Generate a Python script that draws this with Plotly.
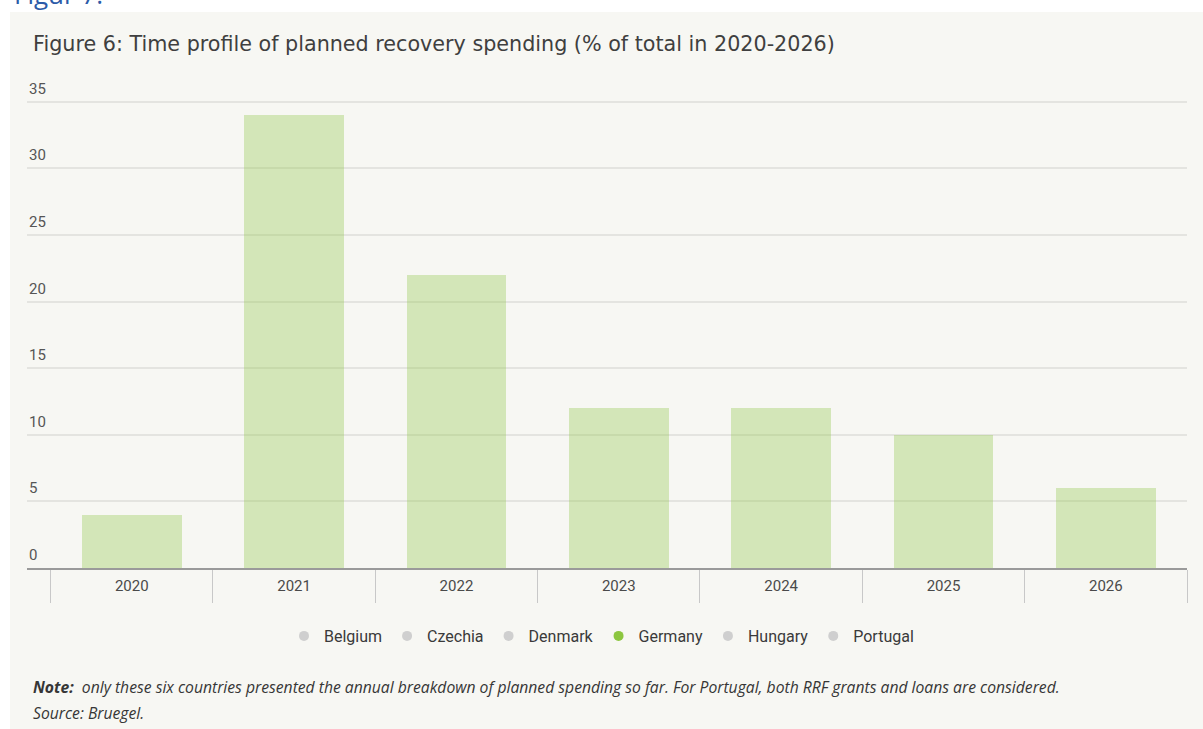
import plotly.graph_objects as go

# Chart data
years = ["2020", "2021", "2022", "2023", "2024", "2025", "2026"]
spending_share = [4, 34, 22, 12, 12, 10, 6]
countries = ["Belgium", "Czechia", "Denmark", "Germany", "Hungary", "Portugal"]
shown_country = "Germany"
y_ticks = [0, 5, 10, 15, 20, 25, 30, 35]

W, H = 1203, 729
PANEL_BG = "#f7f7f3"
TEXT = "#4a4a4a"
GREEN = "#8cc63f"
GREY_DOT = "#cfcfcf"


def px_x(x):
    return x / W


def px_y(y):
    return 1 - y / H


# plot area in pixels (y=0 at the axis line, y=35 at the top gridline)
left, right, y0_px, y35_px = 27, 1187, 568, 101.7
unit_px = (y0_px - y35_px) / 35
y_top = 37
top = y0_px - y_top * unit_px
cat_w = (right - left) / (len(years) + 0.1455)
x_lo = -0.5 - (50.6 - left) / cat_w
x_hi = len(years) - 0.5

fig = go.Figure()

fig.add_trace(go.Bar(
    x=list(range(len(years))),
    y=spending_share,
    width=0.615,
    marker=dict(color="rgba(140,198,63,0.33)", line=dict(width=0)),
    showlegend=False,
    hoverinfo="skip",
))

for c in countries:
    fig.add_trace(go.Scatter(
        x=[None], y=[None], mode="markers", name=c,
        marker=dict(symbol="circle", size=10,
                    color=GREEN if c == shown_country else GREY_DOT),
    ))

# y tick labels sit just above their gridlines, flush left
annotations = [
    dict(text=str(v), xref="paper", yref="y", x=px_x(left), y=v,
         xanchor="left", yanchor="bottom", yshift=2, showarrow=False,
         font=dict(size=15, color="#555555"))
    for v in y_ticks
]

annotations += [
    dict(text="Figur 7:", xref="paper", yref="paper",
         x=px_x(12), y=px_y(-6), xanchor="left", yanchor="middle",
         showarrow=False,
         font=dict(family="'Open Sans', sans-serif", size=26, color="#2c5ba8")),
    dict(text="Figure 6: Time profile of planned recovery spending (% of total in 2020-2026)",
         xref="paper", yref="paper", x=px_x(31), y=px_y(44),
         xanchor="left", yanchor="middle", showarrow=False,
         font=dict(family="'DejaVu Sans', sans-serif", size=20.7, color="#3f3f3f")),
    dict(text="<b><i>Note:</i></b><i>  only these six countries presented the annual breakdown of planned spending so far. "
              "For Portugal, both RRF grants and loans are considered.</i>",
         xref="paper", yref="paper", x=px_x(31), y=px_y(687),
         xanchor="left", yanchor="middle", showarrow=False,
         font=dict(family="'Open Sans', sans-serif", size=15.7, color="#363636")),
    dict(text="<i>Source: Bruegel.</i>",
         xref="paper", yref="paper", x=px_x(31), y=px_y(713),
         xanchor="left", yanchor="middle", showarrow=False,
         font=dict(family="'Open Sans', sans-serif", size=15.7, color="#363636")),
]

fig.update_layout(
    width=W, height=H,
    margin=dict(l=0, r=0, t=0, b=0),
    paper_bgcolor="white",
    plot_bgcolor="rgba(0,0,0,0)",
    font=dict(family="Roboto, 'Open Sans', sans-serif", color=TEXT),
    bargap=0,
    xaxis=dict(
        domain=[px_x(left), px_x(right)],
        range=[x_lo, x_hi],
        tickmode="array",
        tickvals=list(range(len(years))),
        ticktext=years,
        ticks="",
        ticklabelstandoff=3,
        showgrid=False,
        zeroline=False,
        showline=True, linecolor="#9a9a9a", linewidth=2,
        tickfont=dict(size=15, color=TEXT),
        minor=dict(tickmode="array",
                   tickvals=[i - 0.5 for i in range(len(years) + 1)],
                   ticks="outside", ticklen=33, tickcolor="#c8c8c8",
                   tickwidth=1, showgrid=False),
        fixedrange=True,
    ),
    yaxis=dict(
        domain=[px_y(y0_px), px_y(top)],
        range=[0, y_top],
        tickmode="array",
        tickvals=y_ticks,
        showticklabels=False,
        showgrid=True, gridcolor="#e4e4e0", gridwidth=1.5,
        zeroline=False,
        showline=False,
        fixedrange=True,
    ),
    legend=dict(
        orientation="h",
        x=0.5, xanchor="center",
        y=px_y(636), yanchor="middle",
        font=dict(size=16, color="#3a3a3a"),
        bgcolor="rgba(0,0,0,0)",
        itemclick=False, itemdoubleclick=False,
        tracegroupgap=0,
    ),
    shapes=[dict(
        type="rect", xref="paper", yref="paper",
        x0=px_x(10), x1=1.0, y0=0, y1=px_y(12),
        fillcolor=PANEL_BG, line=dict(width=0), layer="below",
    )],
    annotations=annotations,
)

fig.write_html("out.html")
